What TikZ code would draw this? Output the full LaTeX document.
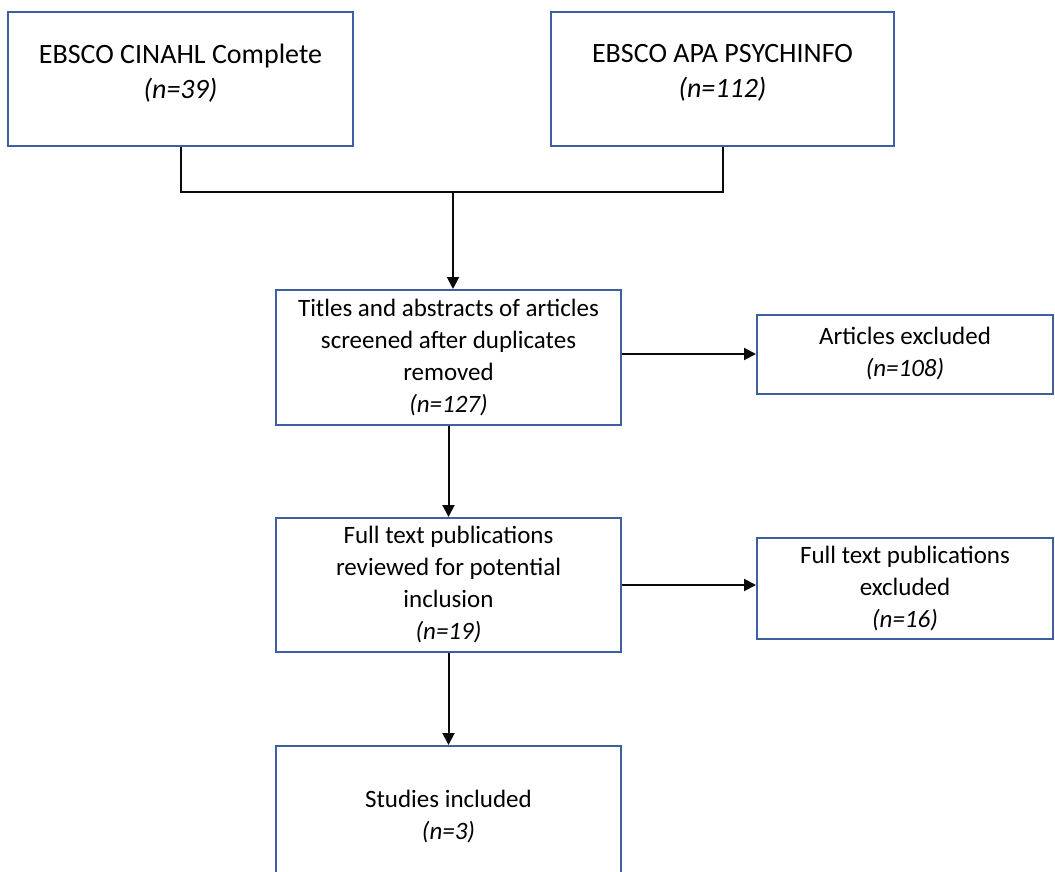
\documentclass[tikz,border=0pt]{standalone}
\usepackage{fontspec}
\setmainfont{Carlito}
\usepackage{xcolor}
\usetikzlibrary{arrows.meta}
\definecolor{prismablue}{RGB}{62,96,160}
\definecolor{prismablack}{RGB}{10,10,10}

\tikzset{
    prismabox/.style={draw=prismablue, line width=2pt, align=center, inner sep=0pt,
        font=\fontsize{25}{32}\selectfont},
    sourcebox/.style={prismabox, font=\fontsize{28}{35}\selectfont, text depth=16pt},
    prismaline/.style={prismablack, line width=2pt},
    prismaarrow/.style={prismaline, -{Triangle[length=12pt,width=12pt]}}
}

\begin{document}
\begin{tikzpicture}[x=1pt, y=-1pt]
    \useasboundingbox (0,0) rectangle (1055,872);
    \clip (0,0) rectangle (1055,872);

    % Databases searched
    \node[sourcebox, minimum width=345pt, minimum height=134pt] (cinahl) at (180.5,79)
        {EBSCO CINAHL Complete\\ \textit{(n=39)}};
    \node[sourcebox, minimum width=343pt, minimum height=134pt] (psych) at (722.5,79)
        {EBSCO APA PSYCHINFO\\ \textit{(n=112)}};

    % Screening
    \node[prismabox, minimum width=345pt, minimum height=135pt] (screen) at (448.5,357.5)
        {Titles and abstracts of articles\\ screened after duplicates\\ removed\\ \textit{(n=127)}};
    \node[prismabox, minimum width=296pt, minimum height=79pt] (excl) at (905,354)
        {Articles excluded\\ \textit{(n=108)}};

    % Eligibility
    \node[prismabox, minimum width=345pt, minimum height=134pt] (fulltext) at (448.5,585)
        {Full text publications\\ reviewed for potential\\ inclusion\\ \textit{(n=19)}};
    \node[prismabox, minimum width=296pt, minimum height=101pt] (ftexcl) at (905,588.5)
        {Full text publications\\ excluded\\ \textit{(n=16)}};

    % Included
    \node[prismabox, minimum width=345pt, minimum height=142pt] (incl) at (448.5,817)
        {Studies included\\ \textit{(n=3)}};

    % Merge of the two searches
    \coordinate (merge) at (453,192);
    \draw[prismaline] (cinahl.south) |- (merge) -| (psych.south);
    \draw[prismaarrow] (merge) -- (merge |- screen.north);

    % Flow down and exclusions
    \draw[prismaarrow] (excl.west -| screen.east) -- (excl.west);
    \draw[prismaarrow] (screen.south) -- (fulltext.north);
    \draw[prismaarrow] (fulltext.east) -- (fulltext.east -| ftexcl.west);
    \draw[prismaarrow] (fulltext.south) -- (incl.north);
\end{tikzpicture}
\end{document}
